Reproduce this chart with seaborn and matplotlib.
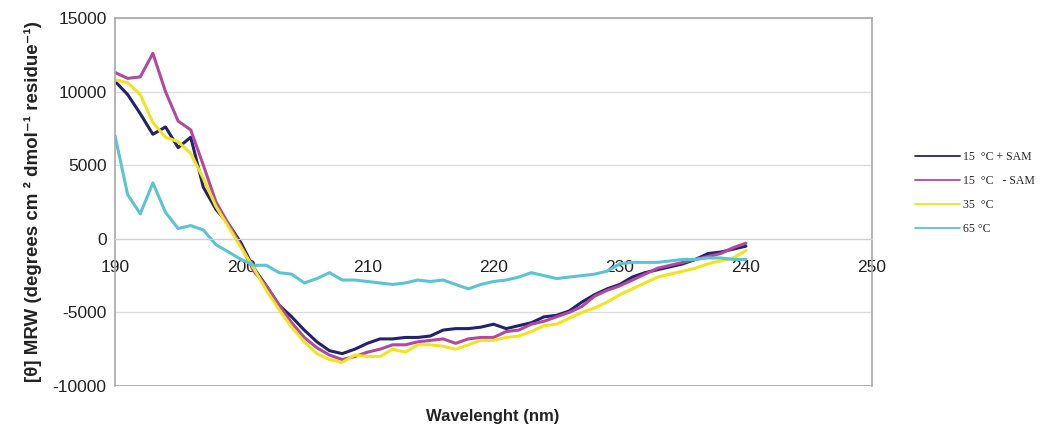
import pandas as pd
import numpy as np
import matplotlib
matplotlib.use('Agg')
import matplotlib.pyplot as plt
import seaborn as sns

# CD spectra (1 nm steps)
wavelength = list(range(190, 241))

sam_15 = [10700, 9800, 8500, 7100, 7600, 6200, 6900, 3500, 2000, 1000,
          -300, -2000, -3200, -4500, -5300, -6200, -7000, -7600, -7800, -7500,
          -7100, -6800, -6800, -6700, -6700, -6600, -6200, -6100, -6100, -6000,
          -5800, -6100, -5900, -5700, -5300, -5200, -4900, -4300, -3800, -3400,
          -3100, -2600, -2300, -2100, -1900, -1700, -1400, -1000, -900, -700,
          -500]
nosam_15 = [11300, 10900, 11000, 12600, 10000, 8000, 7400, 5000, 2500, 1000,
            -500, -2200, -3200, -4500, -5700, -6700, -7400, -7900, -8200, -8000,
            -7700, -7500, -7200, -7200, -7000, -6900, -6800, -7100, -6800, -6700,
            -6700, -6300, -6200, -5800, -5600, -5300, -5000, -4600, -3900, -3500,
            -3200, -2800, -2400, -2000, -1800, -1600, -1400, -1200, -1000, -600,
            -300]
temp_35 = [10800, 10600, 9800, 7900, 6900, 6600, 5800, 4100, 2200, 800,
           -600, -2000, -3500, -4800, -6000, -7000, -7800, -8200, -8400, -7900,
           -8000, -8000, -7500, -7700, -7200, -7200, -7300, -7500, -7200, -6900,
           -6900, -6700, -6600, -6300, -5900, -5800, -5400, -5000, -4700, -4300,
           -3800, -3400, -3000, -2600, -2400, -2200, -2000, -1700, -1500, -1300,
           -800]
temp_65 = [7000, 3000, 1700, 3800, 1800, 700, 900, 600, -400, -900,
           -1400, -1800, -1800, -2300, -2400, -3000, -2700, -2300, -2800, -2800,
           -2900, -3000, -3100, -3000, -2800, -2900, -2800, -3100, -3400, -3100,
           -2900, -2800, -2600, -2300, -2500, -2700, -2600, -2500, -2400, -2200,
           -1700, -1600, -1600, -1600, -1500, -1400, -1400, -1300, -1300, -1400,
           -1400]

labels = ['15  °C + SAM', '15  °C   - SAM', '35  °C', '65 °C']
colors = ['#22226e', '#b04a9e', '#eee520', '#5cc3d2']

df = pd.concat([
    pd.DataFrame({'wl': wavelength, 'mrw': vals, 'series': lab})
    for vals, lab in zip([sam_15, nosam_15, temp_35, temp_65], labels)
])

sns.set_style('white')
plt.rcParams['font.family'] = ['Liberation Sans', 'DejaVu Sans']
plt.rcParams['axes.unicode_minus'] = False

fig = plt.figure(figsize=(10.42, 4.29), dpi=100)
ax = fig.add_axes([0.1104, 0.1002, 0.7265, 0.8578])

sns.lineplot(data=df, x='wl', y='mrw', hue='series', hue_order=labels,
             palette=colors, linewidth=2.2, ax=ax, legend=False)

ax.set_xlim(190, 250)
ax.set_ylim(-10000, 15000)
ax.set_xticks(range(190, 251, 10))
ax.set_yticks(range(-10000, 15001, 5000))
ax.yaxis.grid(True, color='#dcdcdc', linewidth=1)
ax.set_axisbelow(True)

for s in ['top', 'right', 'left']:
    ax.spines[s].set_color('#a8a8a8')
    ax.spines[s].set_linewidth(1.2)
# x axis crosses at zero, frame bottom drawn separately
ax.spines['bottom'].set_position(('data', 0))
ax.spines['bottom'].set_color('#d0d0d0')
ax.axhline(-10000, color='#a8a8a8', linewidth=1.5, zorder=0.5)

ax.tick_params(axis='x', direction='in', length=4, color='#c8c8c8',
               pad=15, labelsize=12.5, labelcolor='#222222')
ax.tick_params(axis='y', length=0, pad=6, labelsize=12.5, labelcolor='#222222')

ax.set_xlabel('')
ax.set_ylabel('[θ] MRW (degrees cm ² dmol⁻¹ residue⁻¹)', fontsize=13.5,
              fontweight='bold', labelpad=8, color='#222222')
fig.text(0.473, 0.03, 'Wavelenght (nm)', ha='center', va='center',
         fontsize=12, fontweight='bold', color='#222222')

handles = [plt.Line2D([], [], color=c, linewidth=1.3) for c in colors]
leg = fig.legend(handles, labels, loc='center left',
                 bbox_to_anchor=(0.868, 0.55), frameon=False,
                 prop={'family': 'Liberation Serif', 'size': 8.5},
                 handlelength=3.8, handletextpad=0.3, labelspacing=1.0)

fig.savefig('out.png', dpi=100)
